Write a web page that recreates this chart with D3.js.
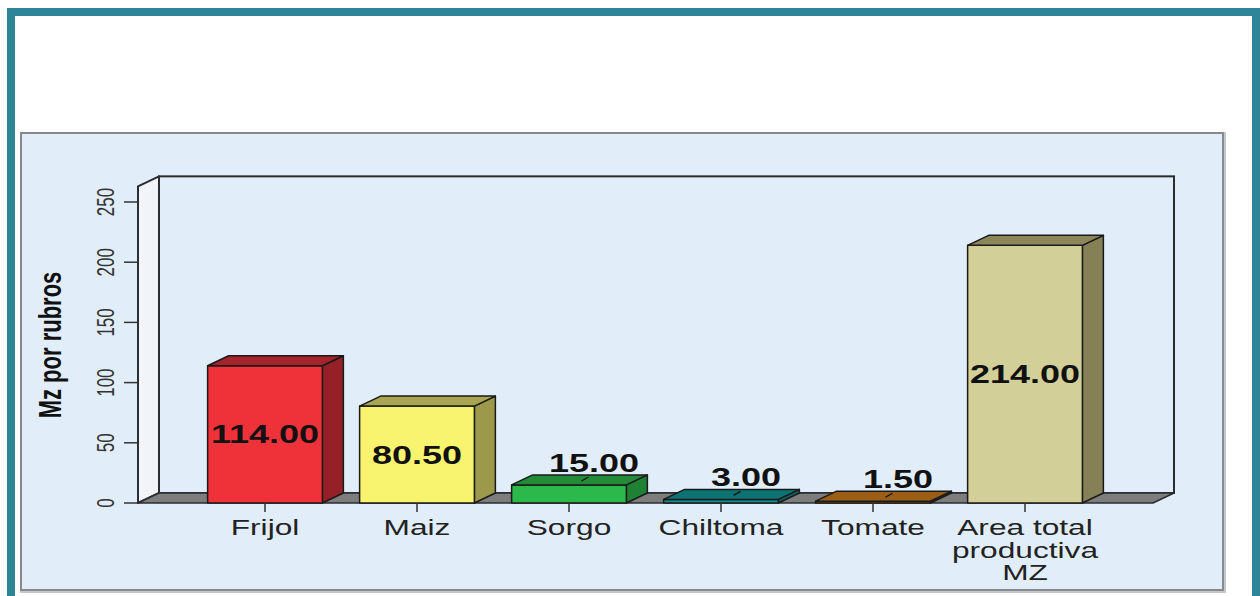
<!DOCTYPE html>
<html>
<head>
<meta charset="utf-8">
<title>Mz por rubros</title>
<script src="https://d3js.org/d3.v7.min.js"></script>
<style>
  html, body { margin: 0; padding: 0; background: #ffffff; }
  svg { display: block; font-family: "Liberation Sans", Arial, sans-serif; }
</style>
</head>
<body>
<div id="vis"></div>
<script>

  // data
  const categories = ["Frijol", "Maiz", "Sorgo", "Chiltoma", "Tomate", "Area total productiva MZ"];
  const categoryLines = [["Frijol"], ["Maiz"], ["Sorgo"], ["Chiltoma"], ["Tomate"], ["Area total", "productiva", "MZ"]];
  const values = [114.00, 80.50, 15.00, 3.00, 1.50, 214.00];
  const yTicks = [0, 50, 100, 150, 200, 250];
  const yTitle = "Mz por rubros";

  // bar colours: front, side, top
  const frontColors = ["#ef3239", "#f9f46f", "#2cb84a", "#138f8f", "#b06818", "#d3cf98"];
  const sideColors  = ["#952027", "#9c9a4a", "#1f8133", "#0c6464", "#7a4810", "#858056"];
  const topColors   = ["#a5242b", "#a8a550", "#238a37", "#0d7272", "#9a5e16", "#8b865a"];

  const W = 1260, H = 596;
  const SX = 1.44;           // the original is stretched sideways, text too
  const DX = 21, DY = 10;    // 3d depth
  const y0px = 503, yTop = 263;

  const svg = d3.select("#vis").append("svg")
    .attr("width", W).attr("height", H)
    .attr("viewBox", [0, 0, W, H]);

  // teal frame
  svg.append("rect")
    .attr("x", 11).attr("y", 12).attr("width", 1245).attr("height", 590)
    .attr("fill", "#ffffff").attr("stroke", "#2f8598").attr("stroke-width", 8);

  // chart panel
  svg.append("rect")
    .attr("x", 22).attr("y", 134).attr("width", 1202).attr("height", 457)
    .attr("fill", "none").attr("stroke", "#c4c8cc").attr("stroke-width", 4);
  svg.append("rect")
    .attr("x", 21).attr("y", 133).attr("width", 1202).attr("height", 457)
    .attr("fill", "#e1eefa").attr("stroke", "#858a8f").attr("stroke-width", 2);

  const x = d3.scaleBand()
    .domain(categories)
    .range([189, 1101])
    .paddingInner(0.245)
    .paddingOuter(0.1225);

  const y = d3.scaleLinear()
    .domain([0, 250])
    .range([y0px, 202]);

  const wallLeft = 138, wallRight = 1153;
  const wallTop = y(yTop);

  const pts = a => a.map(p => p.join(",")).join(" ");

  // back wall
  svg.append("rect")
    .attr("x", wallLeft + DX).attr("y", wallTop - DY)
    .attr("width", wallRight - wallLeft).attr("height", y0px - wallTop)
    .attr("fill", "#e1eefa").attr("stroke", "#2a2d30").attr("stroke-width", 2);

  // left wall
  svg.append("polygon")
    .attr("points", pts([[wallLeft, y0px], [wallLeft, wallTop], [wallLeft + DX, wallTop - DY], [wallLeft + DX, y0px - DY]]))
    .attr("fill", "#f1f5fa").attr("stroke", "#2a2d30").attr("stroke-width", 2)
    .attr("stroke-linejoin", "round");

  // floor
  svg.append("polygon")
    .attr("points", pts([[wallLeft, y0px], [wallRight, y0px], [wallRight + DX, y0px - DY], [wallLeft + DX, y0px - DY]]))
    .attr("fill", "#7d7d7d").attr("stroke", "#2a2d30").attr("stroke-width", 1.5)
    .attr("stroke-linejoin", "round");

  // y ticks
  const yAxis = svg.append("g");
  yAxis.selectAll("line")
    .data(yTicks)
    .join("line")
    .attr("x1", wallLeft - 14).attr("x2", wallLeft)
    .attr("y1", d => y(d)).attr("y2", d => y(d))
    .attr("stroke", "#333").attr("stroke-width", 1.5);
  yAxis.selectAll("text")
    .data(yTicks)
    .join("text")
    .attr("transform", d => `translate(114,${y(d)}) scale(${SX},1) rotate(-90)`)
    .attr("text-anchor", "middle")
    .attr("font-size", 17)
    .attr("fill", "#333")
    .text(d => d);

  svg.append("text")
    .attr("transform", `translate(61,345) scale(${SX},1) rotate(-90)`)
    .attr("text-anchor", "middle")
    .attr("font-size", 22)
    .attr("font-weight", "bold")
    .attr("fill", "#111")
    .text(yTitle);

  // bars
  const bw = x.bandwidth();
  const bars = categories.map((c, i) => ({ c, v: values[i], i, x: x(c), yv: y(values[i]) }));

  const g = svg.append("g").attr("stroke", "#1a1a1a").attr("stroke-width", 1.5).attr("stroke-linejoin", "round");

  g.selectAll(".side")
    .data(bars)
    .join("polygon")
    .attr("class", "side")
    .attr("points", d => pts([[d.x + bw, d.yv], [d.x + bw + DX, d.yv - DY], [d.x + bw + DX, y0px - DY], [d.x + bw, y0px]]))
    .attr("fill", d => sideColors[d.i]);

  g.selectAll(".front")
    .data(bars)
    .join("rect")
    .attr("class", "front")
    .attr("x", d => d.x).attr("y", d => d.yv)
    .attr("width", bw).attr("height", d => y0px - d.yv)
    .attr("fill", d => frontColors[d.i]);

  g.selectAll(".top")
    .data(bars)
    .join("polygon")
    .attr("class", "top")
    .attr("points", d => pts([[d.x, d.yv], [d.x + DX, d.yv - DY], [d.x + bw + DX, d.yv - DY], [d.x + bw, d.yv]]))
    .attr("fill", d => topColors[d.i]);

  // category ticks
  svg.append("g").selectAll("line")
    .data(bars)
    .join("line")
    .attr("x1", d => d.x + bw / 2).attr("x2", d => d.x + bw / 2)
    .attr("y1", y0px).attr("y2", y0px + 9)
    .attr("stroke", "#333").attr("stroke-width", 1.5);

  // category labels
  const catG = svg.append("g").selectAll("g")
    .data(bars)
    .join("g");
  catG.selectAll("text")
    .data(d => categoryLines[d.i].map((t, k) => ({ t, k, cx: d.x + bw / 2 })))
    .join("text")
    .attr("transform", d => `translate(${d.cx},${535 + d.k * 22.5}) scale(${SX},1)`)
    .attr("text-anchor", "middle")
    .attr("font-size", 22)
    .attr("fill", "#222")
    .text(d => d.t);

  // value labels
  const fmt = d3.format(".2f");
  const inside = d => (y0px - d.yv) > 30;

  svg.append("g").selectAll("line")
    .data(bars.filter(d => !inside(d)))
    .join("line")
    .attr("x1", d => d.x + bw / 2 + DX / 2 + 2).attr("y1", d => d.yv - DY / 2 + 1)
    .attr("x2", d => d.x + bw / 2 + DX / 2 + 9).attr("y2", d => d.yv - DY / 2 - 3)
    .attr("stroke", "#111").attr("stroke-width", 1.2);

  svg.append("g").selectAll("text")
    .data(bars)
    .join("text")
    .attr("transform", d => inside(d)
      ? `translate(${d.x + bw / 2},${(d.yv + y0px) / 2 + 9}) scale(${SX},1)`
      : `translate(${d.x + bw / 2 + DX + 4},${d.yv - DY - 3}) scale(${SX},1)`)
    .attr("text-anchor", "middle")
    .attr("font-size", 25)
    .attr("font-weight", "bold")
    .attr("fill", "#111")
    .text(d => fmt(d.v));

</script>
</body>
</html>
